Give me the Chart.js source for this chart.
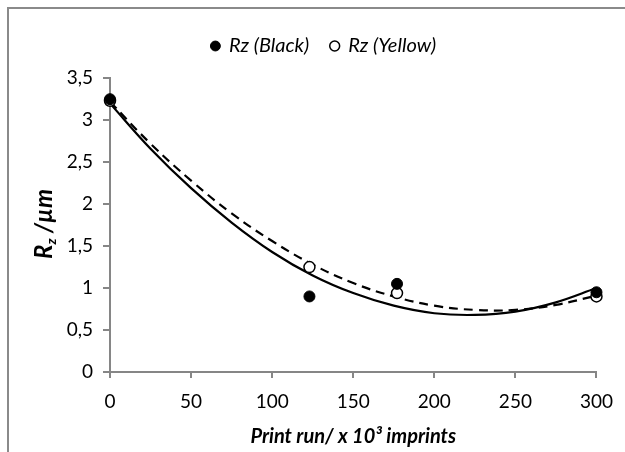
<!DOCTYPE html>
<html>
<head>
<meta charset="utf-8">
<script src="https://cdn.jsdelivr.net/npm/chart.js@4.4.0/dist/chart.umd.min.js"></script>
<style>
  html, body { margin: 0; padding: 0; background: #fff; }
  #wrap { width: 625px; height: 452px; }
</style>
</head>
<body>
<div id="wrap"><canvas id="rzChart" width="625" height="452"></canvas></div>
<script>
// measured points (print run in 10^3 imprints)
const printRun = [0, 123, 177, 300];
const rzBlack = [3.25, 0.9, 1.05, 0.95];
const rzYellow = [3.23, 1.25, 0.94, 0.9];

// trend curves
const trendX = [0, 25, 50, 75, 100, 125, 150, 175, 200, 225, 250, 275, 300];
const trendBlack = [3.20, 2.66, 2.19, 1.78, 1.43, 1.15, 0.94, 0.79, 0.70, 0.68, 0.72, 0.83, 1.00];
const trendYellow = [3.22, 2.72, 2.28, 1.89, 1.56, 1.28, 1.06, 0.90, 0.79, 0.74, 0.74, 0.80, 0.91];

const xTicks = [0, 50, 100, 150, 200, 250, 300];

const axisGray = '#868686';
const fontFam = 'Lato, "Open Sans", sans-serif';

function pairs(xs, ys) {
    return xs.map((x, i) => ({ x: x, y: ys[i] }));
}

// frame + axis titles
const extras = {
    id: 'extras',
    afterDraw(chart) {
        const ctx = chart.ctx;
        const area = chart.chartArea;
        ctx.save();
        // outer frame (only top/left edges visible in the crop)
        ctx.strokeStyle = '#8a8a8a';
        ctx.lineWidth = 2;
        ctx.beginPath();
        ctx.moveTo(8, 452);
        ctx.lineTo(8, 8);
        ctx.lineTo(625, 8);
        ctx.stroke();

        ctx.fillStyle = '#000';
        // x title
        ctx.font = 'italic bold 20px ' + fontFam;
        ctx.textAlign = 'center';
        ctx.textBaseline = 'middle';
        ctx.fillText('Print run/ x 10\u00B3 imprints', (area.left + area.right) / 2, 437);

        // y title with subscript
        ctx.translate(45, 224);
        ctx.rotate(-Math.PI / 2);
        const big = 'italic bold 24px ' + fontFam;
        const small = 'italic bold 14px ' + fontFam;
        ctx.font = big;
        const wR = ctx.measureText('R').width;
        const wRest = ctx.measureText(' /\u00B5m').width;
        ctx.font = small;
        const wz = ctx.measureText('z').width;
        let x0 = -(wR + wz + wRest) / 2;
        ctx.textAlign = 'left';
        ctx.textBaseline = 'alphabetic';
        ctx.font = big;
        ctx.fillText('R', x0, 7);
        ctx.font = small;
        ctx.fillText('z', x0 + wR, 11);
        ctx.font = big;
        ctx.fillText(' /\u00B5m', x0 + wR + wz, 7);
        ctx.restore();
    }
};

const ctx = document.getElementById('rzChart').getContext('2d');
new Chart(ctx, {
    type: 'scatter',
    data: {
        datasets: [
            {
                label: 'Rz (Black)',
                data: pairs(printRun, rzBlack),
                backgroundColor: '#000',
                borderColor: '#000',
                borderWidth: 1,
                pointRadius: 5.5,
                showLine: false,
                clip: false
            },
            {
                label: 'Rz (Yellow)',
                data: pairs(printRun, rzYellow),
                backgroundColor: '#fff',
                borderColor: '#000',
                borderWidth: 1.5,
                pointRadius: 5.5,
                showLine: false,
                clip: false
            },
            {
                label: 'trend black',
                data: pairs(trendX, trendBlack),
                borderColor: '#000',
                borderWidth: 2.2,
                pointRadius: 0,
                showLine: true,
                tension: 0.4
            },
            {
                label: 'trend yellow',
                data: pairs(trendX, trendYellow),
                borderColor: '#000',
                borderWidth: 2.2,
                borderDash: [9, 6],
                pointRadius: 0,
                showLine: true,
                tension: 0.4
            }
        ]
    },
    options: {
        responsive: false,
        animation: false,
        layout: {
            padding: { left: 51, right: 28, top: 14, bottom: 0 }
        },
        plugins: {
            legend: {
                position: 'top',
                labels: {
                    usePointStyle: true,
                    pointStyle: 'circle',
                    boxWidth: 7,
                    boxHeight: 7,
                    padding: 22,
                    color: '#000',
                    font: { family: fontFam, size: 20, style: 'italic' },
                    filter: item => item.datasetIndex < 2
                }
            },
            // empty spacer between legend and plot
            subtitle: {
                display: true,
                text: '',
                weight: 500,
                font: { size: 1 },
                padding: { top: 0, bottom: 11 }
            },
            tooltip: { enabled: false }
        },
        scales: {
            x: {
                type: 'linear',
                min: 0,
                max: 300,
                afterBuildTicks: s => { s.ticks = xTicks.map(v => ({ value: v })); },
                afterFit: s => { s.height = 80; },
                grid: { display: true, drawOnChartArea: false, drawTicks: true, tickLength: 6, color: axisGray, lineWidth: 2 },
                border: { color: axisGray, width: 2 },
                ticks: {
                    color: '#000',
                    padding: 12,
                    font: { family: fontFam, size: 19 }
                }
            },
            y: {
                min: 0,
                max: 3.5,
                afterFit: s => { s.width = 59; },
                grid: { display: true, drawOnChartArea: false, drawTicks: true, tickLength: 7, color: axisGray, lineWidth: 2 },
                border: { color: axisGray, width: 2 },
                ticks: {
                    stepSize: 0.5,
                    color: '#000',
                    padding: 10,
                    font: { family: fontFam, size: 19 },
                    callback: v => String(v).replace('.', ',')
                }
            }
        }
    },
    plugins: [extras]
});
</script>
</body>
</html>
